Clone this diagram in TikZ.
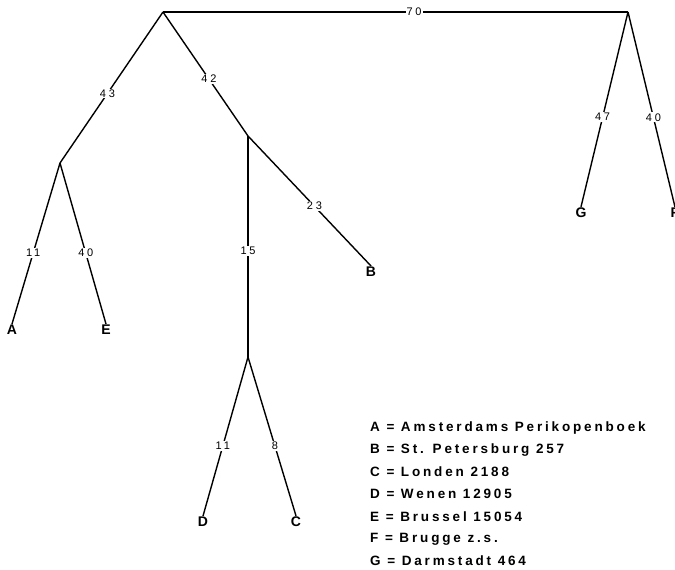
\documentclass[tikz,border=0pt]{standalone}
\usepackage{fontspec}
\setmainfont{Liberation Sans}
\newfontfamily\edgefont[LetterSpace=25]{Liberation Sans}
\newfontfamily\legfont[LetterSpace=21]{Liberation Sans}
\usepackage{tikz}
\usetikzlibrary{positioning}

\begin{document}
\begin{tikzpicture}[x=1pt, y=-1pt,
    branch/.style={line width=1.4pt},
    elabel/.style={fill=white, inner sep=1pt, font=\edgefont\fontsize{11}{11}\selectfont, pos=0.54},
    leaf/.style={inner sep=1pt, font=\bfseries\fontsize{14}{14}\selectfont},
    legend/.style={anchor=west, inner sep=0pt, font=\legfont\bfseries\fontsize{13.5}{13.5}\selectfont}]
        \useasboundingbox (0,0) rectangle (675,570);
        \path
        (163,12)  coordinate (root)
        (628,12)  coordinate (fg)
        (60,163)  coordinate (ae)
        (248,136) coordinate (bcd)
        (248,357) coordinate (cd)
        ;

        \draw
        (12,330)  node[leaf] (A) {A}
        (106,330) node[leaf] (E) {E}
        (371,272) node[leaf] (B) {B}
        (203,522) node[leaf] (D) {D}
        (296,522) node[leaf] (C) {C}
        (581,213) node[leaf] (G) {G}
        (675,213) node[leaf] (F) {F}
        ;

        \draw[branch] (root) -- node[elabel] {70} (fg);
        \draw[branch] (root) -- node[elabel] {43} (ae);
        \draw[branch] (root) -- node[elabel] {42} (bcd);
        \draw[branch] (ae) -- node[elabel, pos=0.56] {11} (A.north);
        \draw[branch] (ae) -- node[elabel, pos=0.56] {40} (E.north);
        \draw[branch] (bcd) -- node[elabel] {23} (B.north);
        \draw[branch] (bcd) -- node[elabel, pos=0.52] {15} (cd);
        \draw[branch] (cd) -- node[elabel, pos=0.56] {11} (D.north);
        \draw[branch] (cd) -- node[elabel, pos=0.56] {8} (C.north);
        \draw[branch] (fg) -- node[elabel] {47} (G.north);
        \draw[branch] (fg) -- node[elabel] {40} (F.north);

        % legenda
        \node[legend] (legA) at (370,428) {A = Amsterdams Perikopenboek};
        \node[legend] (legB) at (370,450) {B = St. Petersburg 257};
        \node[legend] (legC) at (370,472) {C = Londen 2188};
        \node[legend] (legD) at (370,494) {D = Wenen 12905};
        \node[legend] (legE) at (370,517) {E = Brussel 15054};
        \node[legend] (legF) at (370,539) {F = Brugge z.s.};
        \node[legend] (legG) at (370,561) {G = Darmstadt 464};
\end{tikzpicture}
\end{document}
